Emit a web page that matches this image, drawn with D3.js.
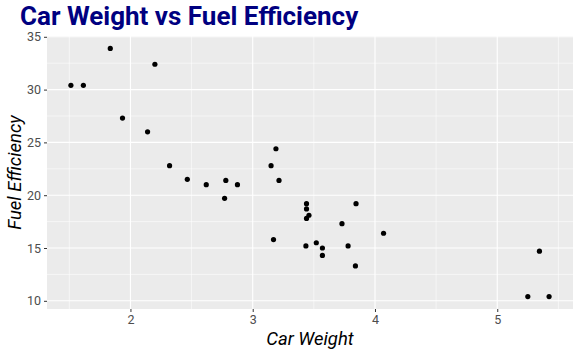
<!DOCTYPE html>
<html><head><meta charset="utf-8">
<script src="https://cdn.jsdelivr.net/npm/d3@7"></script>
<style>body{margin:0;background:#fff}svg{display:block}</style>
</head><body>
<script>
const weights = [2.620,2.875,2.320,3.215,3.440,3.460,3.570,3.190,3.150,3.440,3.440,4.070,3.730,3.780,5.250,5.424,5.345,2.200,1.615,1.835,2.465,3.520,3.435,3.840,3.845,1.935,2.140,1.513,3.170,2.770,3.570,2.780];
const mpgs = [21.0,21.0,22.8,21.4,18.7,18.1,14.3,24.4,22.8,19.2,17.8,16.4,17.3,15.2,10.4,10.4,14.7,32.4,30.4,33.9,21.5,15.5,15.2,13.3,19.2,27.3,26.0,30.4,15.8,19.7,15.0,21.4];
const xTicks = [2,3,4,5];
const yTicks = [10,15,20,25,30,35];
const titleText = "Car Weight vs Fuel Efficiency";
const xLabel = "Car Weight", yLabel = "Fuel Efficiency";

const W = 581, H = 355;
const panel = {l:47, r:573, t:36, b:309};
const svg = d3.select("body").append("svg").attr("width",W).attr("height",H);

const xr = d3.extent(weights), yr = d3.extent(mpgs);
const xe = (xr[1]-xr[0])*0.05, ye = (yr[1]-yr[0])*0.05;
const x = d3.scaleLinear().domain([xr[0]-xe, xr[1]+xe]).range([panel.l, panel.r]);
const y = d3.scaleLinear().domain([yr[0]-ye, yr[1]+ye]).range([panel.b, panel.t]);

svg.append("rect").attr("x",panel.l).attr("y",panel.t).attr("width",panel.r-panel.l).attr("height",panel.b-panel.t).attr("fill","#ebebeb");

const xMinor = xTicks.slice(0,-1).map((d,i)=>(d+xTicks[i+1])/2).concat([xTicks[0]-0.5, xTicks[xTicks.length-1]+0.5]).filter(v=>v>x.domain()[0]&&v<x.domain()[1]);
const yMinor = yTicks.slice(0,-1).map((d,i)=>(d+yTicks[i+1])/2).filter(v=>v>y.domain()[0]&&v<y.domain()[1]);
const g = svg.append("g");
g.selectAll(".xm").data(xMinor).join("line").attr("x1",d=>x(d)).attr("x2",d=>x(d)).attr("y1",panel.t).attr("y2",panel.b).attr("stroke","#fff").attr("stroke-width",0.55);
g.selectAll(".ym").data(yMinor).join("line").attr("y1",d=>y(d)).attr("y2",d=>y(d)).attr("x1",panel.l).attr("x2",panel.r).attr("stroke","#fff").attr("stroke-width",0.55);
g.selectAll(".xM").data(xTicks).join("line").attr("x1",d=>x(d)).attr("x2",d=>x(d)).attr("y1",panel.t).attr("y2",panel.b).attr("stroke","#fff").attr("stroke-width",1.1);
g.selectAll(".yM").data(yTicks).join("line").attr("y1",d=>y(d)).attr("y2",d=>y(d)).attr("x1",panel.l).attr("x2",panel.r).attr("stroke","#fff").attr("stroke-width",1.1);

const xAxis = svg.append("g").attr("transform",`translate(0,${panel.b})`).call(d3.axisBottom(x).tickValues(xTicks).tickSize(3).tickPadding(3).tickFormat(d3.format("d")));
const yAxis = svg.append("g").attr("transform",`translate(${panel.l},0)`).call(d3.axisLeft(y).tickValues(yTicks).tickSize(3).tickPadding(3).tickFormat(d3.format("d")));
[xAxis,yAxis].forEach(a=>{
  a.select(".domain").remove();
  a.selectAll(".tick line").attr("stroke","#333").attr("stroke-width",1);
  a.selectAll(".tick text").attr("fill","#4d4d4d").style("font-family","Roboto, sans-serif").style("font-size","12.5px");
});

svg.append("g").selectAll("circle").data(weights.map((w,i)=>[w,mpgs[i]])).join("circle")
  .attr("cx",d=>x(d[0])).attr("cy",d=>y(d[1])).attr("r",2.6).attr("fill","#000");

svg.append("text").attr("x",20).attr("y",25).text(titleText)
  .style("font-family","Roboto, sans-serif").style("font-weight","bold").style("font-size","26px").attr("fill","#000080");
svg.append("text").attr("x",(panel.l+panel.r)/2).attr("y",345).attr("text-anchor","middle").text(xLabel)
  .style("font-family","Roboto, sans-serif").style("font-style","italic").style("font-size","18.5px").attr("fill","#000");
svg.append("text").attr("transform",`translate(21,${(panel.t+panel.b)/2}) rotate(-90)`).attr("text-anchor","middle").text(yLabel)
  .style("font-family","Roboto, sans-serif").style("font-style","italic").style("font-size","18.5px").attr("fill","#000");
</script>
</body></html>
